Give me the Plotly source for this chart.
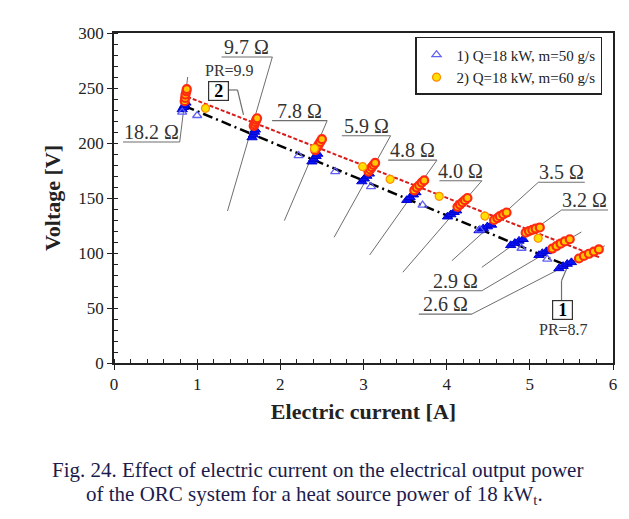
import plotly.graph_objects as go

# ---------------- data ----------------
# Series 2 (Q=18 kW, m=60 g/s) – dense steady-state clusters at each load resistance
s2_cluster_I = [0.85, 0.855, 0.86, 0.87, 0.875,
                1.68, 1.69, 1.70, 1.71, 1.72,
                2.42, 2.44, 2.46, 2.48, 2.50,
                3.06, 3.08, 3.10, 3.12, 3.14,
                3.61, 3.64, 3.67, 3.70, 3.73,
                4.13, 4.16, 4.19, 4.22, 4.25,
                4.57, 4.61, 4.64, 4.68, 4.72,
                4.95, 4.99, 5.03, 5.07, 5.12,
                5.27, 5.32, 5.37, 5.42, 5.48,
                5.59, 5.65, 5.71, 5.77, 5.83]
s2_cluster_V = [238, 241, 244, 247, 249,
                215.5, 217, 219, 221, 222.5,
                193.5, 196, 198.5, 201, 203.5,
                174, 176, 178, 180, 182,
                157, 159.5, 161.5, 164, 166,
                142, 144, 146, 148, 150,
                130, 131.8, 133.5, 135.2, 136.8,
                118.5, 119.8, 121, 122.2, 123.2,
                104, 106.3, 108.5, 110.5, 112.5,
                95, 97.3, 99.3, 101.3, 103.3]
# Series 2 isolated (transient) points
s2_single_I = [1.10, 2.41, 2.99, 3.32, 3.91, 4.46, 5.10]
s2_single_V = [231.5, 195, 178.5, 167, 151.5, 133.6, 113.4]

# Series 1 (Q=18 kW, m=50 g/s) – dense clusters
s1_cluster_I = [0.82, 0.835, 0.85, 0.865,
                1.66, 1.675, 1.69, 1.70,
                2.38, 2.40, 2.43, 2.45,
                2.98, 3.01, 3.04, 3.07,
                3.52, 3.56, 3.60, 3.63,
                4.01, 4.05, 4.09, 4.12,
                4.39, 4.44, 4.49, 4.54,
                4.77, 4.82, 4.87, 4.92,
                5.11, 5.15, 5.20, 5.24,
                5.35, 5.40, 5.45, 5.50]
s1_cluster_V = [230.5, 232.5, 234.5, 236.5,
                205, 207.5, 210, 212,
                183, 185.5, 188, 190,
                165, 167.5, 170, 172,
                148, 150.5, 153, 155,
                133, 135, 137, 138.5,
                120.5, 122.3, 124, 125.5,
                107, 109, 111, 112.5,
                98, 99.8, 101.5, 103,
                86, 88, 90, 91.5]
# Series 1 isolated points
s1_single_I = [0.82, 1.00, 2.22, 2.66, 3.09, 3.71, 4.40, 4.90, 5.21]
s1_single_V = [228, 225, 188.5, 174, 160.3, 143.6, 121, 104.3, 94.5]

# Trend lines (end points)
trend2_I = [0.88, 5.84]
trend2_V = [242, 96]
trend1_I = [0.85, 5.48]
trend1_V = [233.6, 87.5]

# Resistance labels
res_labels = ["18.2 Ω", "9.7 Ω", "7.8 Ω", "5.9 Ω", "4.8 Ω", "4.0 Ω",
              "3.5 Ω", "3.2 Ω", "2.9 Ω", "2.6 Ω"]
legend_names = ["1) Q=18 kW, m=50 g/s", "2) Q=18 kW, m=60 g/s"]

# ---------------- annotation geometry ----------------
label_geom = [
    # x0,    x1,    y,     side,  ex,    ey
    (0.108, 0.790, 200.9, "r", 0.886, 260.0),
    (1.293, 1.904, 278.2, "r", 1.365, 138.2),
    (1.901, 2.563, 220.3, "r", 2.048, 129.4),
    (2.739, 3.326, 206.6, "r", 2.647, 114.3),
    (3.297, 3.884, 184.5, "r", 3.074, 98.2),
    (3.913, 4.423, 165.7, "r", 3.473, 82.5),
    (5.102, 5.661, 164.3, "l", 4.063, 93.0),
    (5.381, 5.940, 139.1, "l", 4.423, 87.0),
    (3.784, 4.423, 65.7, "r", 5.620, 119.1),
    (3.665, 4.303, 44.5, "r", 5.901, 106.6),
]

FONT = "Liberation Serif"
GRAY = "#6e6e6e"

fig = go.Figure()

# trend lines
fig.add_trace(go.Scatter(x=trend1_I, y=trend1_V, mode="lines",
                         line=dict(color="black", width=2.5, dash="10px,4px,2px,4px"),
                         showlegend=False, hoverinfo="skip"))
fig.add_trace(go.Scatter(x=trend2_I, y=trend2_V, mode="lines",
                         line=dict(color="#d81c1c", width=2, dash="4px,2px"),
                         showlegend=False, hoverinfo="skip"))

# series 1
fig.add_trace(go.Scatter(x=s1_cluster_I, y=s1_cluster_V, mode="markers",
                         marker=dict(symbol="triangle-up", size=9, color="#0a14f0",
                                     line=dict(color="#0000d0", width=1)),
                         legendgroup="s1", showlegend=False))
fig.add_trace(go.Scatter(x=s1_single_I, y=s1_single_V, mode="markers",
                         name=legend_names[0],
                         marker=dict(symbol="triangle-up-open", size=8, color="#6060f5",
                                     line=dict(width=1.3)),
                         legendgroup="s1"))

# series 2
fig.add_trace(go.Scatter(x=s2_cluster_I, y=s2_cluster_V, mode="markers",
                         marker=dict(symbol="circle", size=8, color="#ffc800",
                                     line=dict(color="#ff2a10", width=2.2)),
                         legendgroup="s2", showlegend=False))
fig.add_trace(go.Scatter(x=s2_single_I, y=s2_single_V, mode="markers",
                         name=legend_names[1],
                         marker=dict(symbol="circle", size=8, color="#ffe000",
                                     line=dict(color="#ff8a00", width=1.2)),
                         legendgroup="s2"))

shapes = []
annotations = []
for txt, (x0, x1, y, side, ex, ey) in zip(res_labels, label_geom):
    shapes.append(dict(type="line", xref="x", yref="y", x0=x0, x1=x1, y0=y, y1=y,
                       line=dict(color=GRAY, width=1.2), layer="below"))
    sx = x1 if side == "r" else x0
    shapes.append(dict(type="line", xref="x", yref="y", x0=sx, y0=y, x1=ex, y1=ey,
                       line=dict(color=GRAY, width=1), layer="below"))
    annotations.append(dict(x=(x0 + x1) / 2, y=y, xref="x", yref="y", text=txt,
                            showarrow=False, yanchor="bottom", yshift=-3,
                            font=dict(family=FONT, size=20, color="#333333")))

# leaders of the boxed markers "2" and "1"
for (xa, ya, xb, yb) in [(1.377, 248.2, 1.485, 248.2), (1.485, 248.2, 1.557, 225.5),
                         (5.381, 56.6, 5.381, 74.8), (5.381, 74.8, 5.441, 85.5)]:
    shapes.append(dict(type="line", xref="x", yref="y", x0=xa, y0=ya, x1=xb, y1=yb,
                       line=dict(color=GRAY, width=1.2), layer="below"))

annotations += [
    dict(x=1.257, y=247.3, xref="x", yref="y", text="<b>2</b>", showarrow=False,
         font=dict(family=FONT, size=18, color="black"), bordercolor="#333",
         borderwidth=1.2, borderpad=1, bgcolor="white", width=17, height=16),
    dict(x=1.389, y=265.5, xref="x", yref="y", text="PR=9.9", showarrow=False,
         font=dict(family=FONT, size=16, color="#333333")),
    dict(x=5.389, y=48.2, xref="x", yref="y", text="<b>1</b>", showarrow=False,
         font=dict(family=FONT, size=18, color="black"), bordercolor="#333",
         borderwidth=1.2, borderpad=1, bgcolor="white", width=17, height=16),
    dict(x=5.40, y=30.9, xref="x", yref="y", text="PR=8.7", showarrow=False,
         font=dict(family=FONT, size=16, color="#333333")),
    # caption
    dict(x=0.407, y=-0.325, xref="paper", yref="paper", showarrow=False,
         text="Fig. 24. Effect of electric current on the electrical output power",
         font=dict(family=FONT, size=21, color="#1c1c4c"), yanchor="middle"),
    dict(x=0.401, y=-0.400, xref="paper", yref="paper", showarrow=False,
         text="of the ORC system for a heat source power of 18 kW<sub>t</sub>.",
         font=dict(family=FONT, size=21, color="#1c1c4c"), yanchor="middle"),
]

fig.update_layout(
    width=629, height=519,
    margin=dict(l=114, r=14, t=33, b=156),
    paper_bgcolor="white", plot_bgcolor="white",
    font=dict(family=FONT, color="#222"),
    shapes=shapes, annotations=annotations,
    legend=dict(x=0.978, y=0.988, xanchor="right", yanchor="top",
                bgcolor="white", bordercolor="#222", borderwidth=1.5,
                font=dict(family=FONT, size=15, color="#222"),
                tracegroupgap=0, itemwidth=30),
    xaxis=dict(range=[0, 6], dtick=1, showgrid=False, zeroline=False,
               showline=True, linecolor="#222", linewidth=1.5, mirror=True,
               ticks="outside", ticklen=5, tickcolor="#222",
               minor=dict(dtick=0.2, ticks="inside", ticklen=4, tickcolor="#222"),
               tickfont=dict(family=FONT, size=17, color="#222"),
               title=dict(text="<b>Electric current [A]</b>", standoff=10,
                          font=dict(family=FONT, size=22, color="#222"))),
    yaxis=dict(range=[0, 300], dtick=50, showgrid=False, zeroline=False,
               showline=True, linecolor="#222", linewidth=1.5, mirror=True,
               ticks="outside", ticklen=5, tickcolor="#222",
               minor=dict(dtick=10, ticks="inside", ticklen=4, tickcolor="#222"),
               tickfont=dict(family=FONT, size=17, color="#222"),
               title=dict(text="<b>Voltage [V]</b>", standoff=12,
                          font=dict(family=FONT, size=22, color="#222"))),
)

fig.write_html("out.html")
